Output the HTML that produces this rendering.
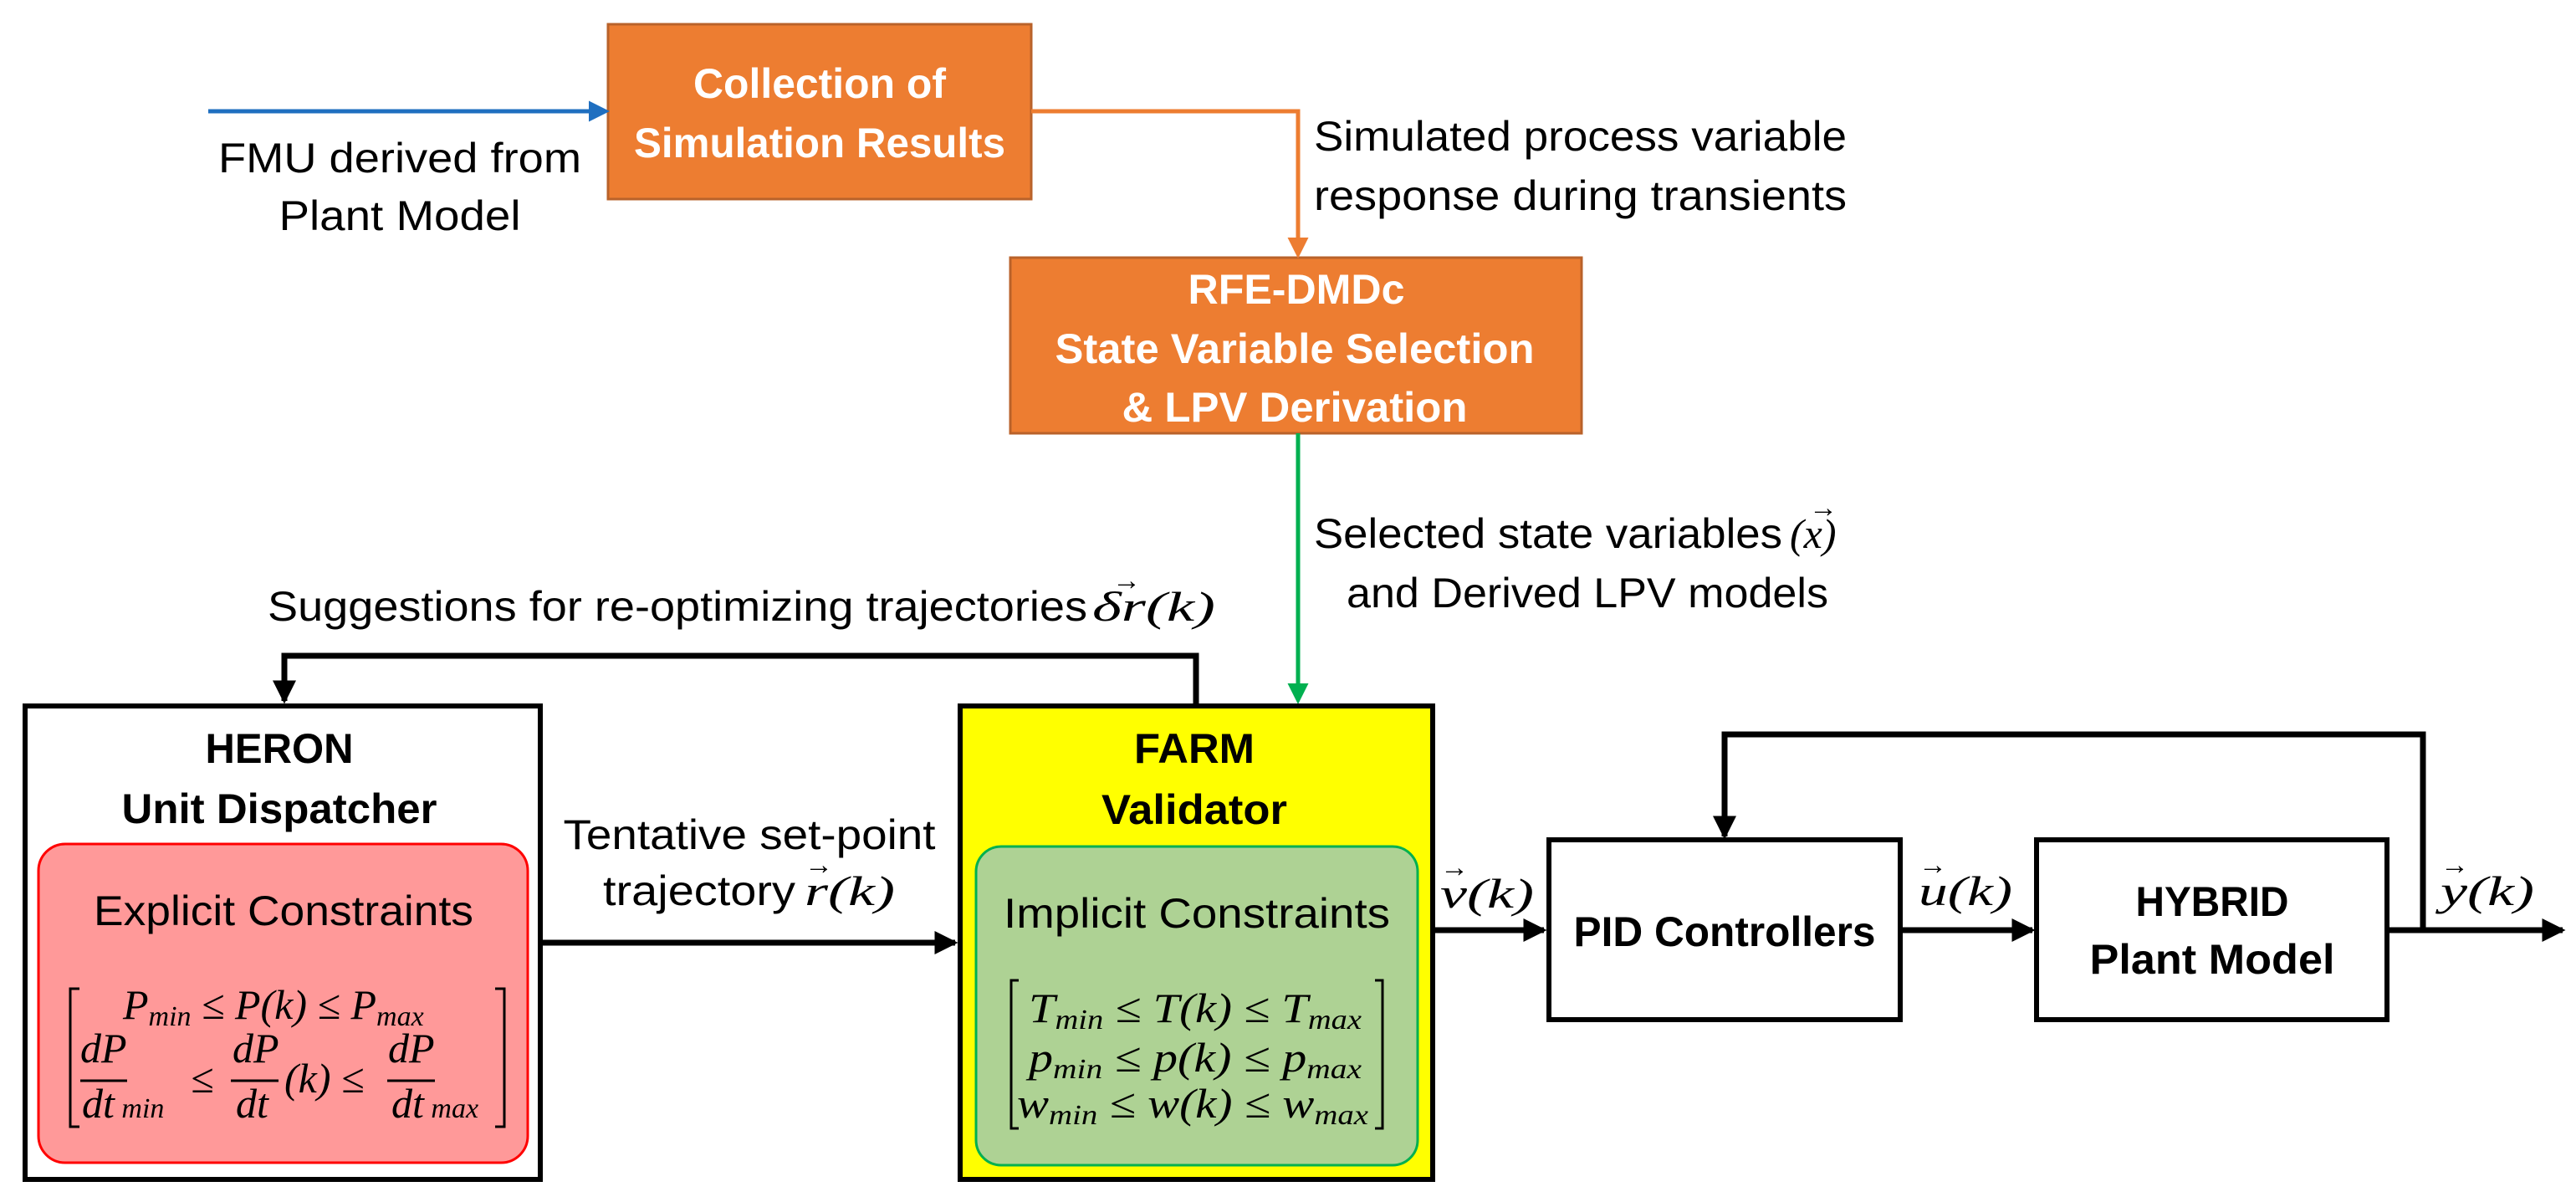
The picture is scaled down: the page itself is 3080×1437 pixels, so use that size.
<!DOCTYPE html>
<html><head><meta charset="utf-8"><style>
html,body{margin:0;padding:0;background:#fff;}
svg{display:block;}
.t{font-family:"Liberation Sans",sans-serif;font-size:50px;fill:#000;}
.b{font-weight:bold;}
.w{fill:#fff;}
.m{font-family:"Liberation Serif",serif;font-style:italic;font-size:50px;fill:#000;}
.s{font-size:34px;}
</style></head><body>
<svg width="3080" height="1437" viewBox="0 0 3080 1437" xmlns="http://www.w3.org/2000/svg">
<defs>
<marker id="ak" markerWidth="4" markerHeight="4" refX="3.5" refY="2" orient="auto" markerUnits="strokeWidth"><path d="M0,0 L4,2 L0,4 z" fill="#000"/></marker>
<marker id="ab" markerWidth="5" markerHeight="5" refX="4" refY="2.5" orient="auto" markerUnits="strokeWidth"><path d="M0,0 L5,2.5 L0,5 z" fill="#1f6fc0"/></marker>
<marker id="ao" markerWidth="5" markerHeight="5" refX="4" refY="2.5" orient="auto" markerUnits="strokeWidth"><path d="M0,0 L5,2.5 L0,5 z" fill="#ed7d31"/></marker>
<marker id="ag" markerWidth="5" markerHeight="5" refX="4" refY="2.5" orient="auto" markerUnits="strokeWidth"><path d="M0,0 L5,2.5 L0,5 z" fill="#00b050"/></marker>
</defs>

<rect x="727" y="29" width="506" height="209" fill="#ed7d31" stroke="#b9622a" stroke-width="3"/>
<text class="t b w" x="980" y="117" text-anchor="middle" textLength="302" lengthAdjust="spacingAndGlyphs">Collection of</text>
<text class="t b w" x="980" y="188" text-anchor="middle" textLength="444" lengthAdjust="spacingAndGlyphs">Simulation Results</text>

<rect x="1208" y="308" width="683" height="210" fill="#ed7d31" stroke="#b9622a" stroke-width="3"/>
<text class="t b w" x="1550" y="363" text-anchor="middle" textLength="259" lengthAdjust="spacingAndGlyphs">RFE-DMDc</text>
<text class="t b w" x="1548" y="434" text-anchor="middle" textLength="573" lengthAdjust="spacingAndGlyphs">State Variable Selection</text>
<text class="t b w" x="1548" y="504" text-anchor="middle" textLength="413" lengthAdjust="spacingAndGlyphs">&amp; LPV Derivation</text>

<line x1="249" y1="133" x2="724" y2="133" stroke="#1f6fc0" stroke-width="5" marker-end="url(#ab)"/>
<text class="t" x="478" y="206" text-anchor="middle" textLength="434" lengthAdjust="spacingAndGlyphs">FMU derived from</text>
<text class="t" x="478" y="275" text-anchor="middle" textLength="289" lengthAdjust="spacingAndGlyphs">Plant Model</text>

<polyline points="1233,133 1552,133 1552,304" fill="none" stroke="#ed7d31" stroke-width="5" marker-end="url(#ao)"/>
<text class="t" x="1571" y="180" textLength="637" lengthAdjust="spacingAndGlyphs">Simulated process variable</text>
<text class="t" x="1571" y="251" textLength="637" lengthAdjust="spacingAndGlyphs">response during transients</text>

<line x1="1552" y1="518" x2="1552" y2="837" stroke="#00b050" stroke-width="5" marker-end="url(#ag)"/>
<text class="t" x="1571" y="655" textLength="560" lengthAdjust="spacingAndGlyphs">Selected state variables</text>
<text class="m" x="2140" y="655">(<tspan>x</tspan>)</text>
<text class="t s" x="2163" y="618">→</text>
<text class="t" x="1610" y="726" textLength="576" lengthAdjust="spacingAndGlyphs">and Derived LPV models</text>

<polyline points="1430,841 1430,784 340,784 340,838" fill="none" stroke="#000" stroke-width="7" marker-end="url(#ak)"/>
<text class="t" x="320" y="742" textLength="980" lengthAdjust="spacingAndGlyphs">Suggestions for re-optimizing trajectories</text>
<text class="m" x="1306" y="742" textLength="147" lengthAdjust="spacingAndGlyphs">δr(k)</text>
<text class="t s" x="1330" y="705">→</text>

<rect x="30" y="844" width="616" height="566" fill="#fff" stroke="#000" stroke-width="6"/>
<text class="t b" x="334" y="912" text-anchor="middle" textLength="177" lengthAdjust="spacingAndGlyphs">HERON</text>
<text class="t b" x="334" y="984" text-anchor="middle" textLength="377" lengthAdjust="spacingAndGlyphs">Unit Dispatcher</text>
<rect x="46" y="1009" width="585" height="381" rx="32" fill="#ff9999" stroke="#ff0000" stroke-width="3"/>
<text class="t" x="339" y="1106" text-anchor="middle" textLength="454" lengthAdjust="spacingAndGlyphs">Explicit Constraints</text>
<path d="M95,1182 H84 V1347 H95" fill="none" stroke="#000" stroke-width="3"/>
<path d="M592,1182 H603 V1347 H592" fill="none" stroke="#000" stroke-width="3"/>
<text class="m" x="147" y="1218">P<tspan class="s" dy="8">min</tspan><tspan dy="-8"> ≤ P(k) ≤ P</tspan><tspan class="s" dy="8">max</tspan></text>
<text class="m" x="96" y="1270">dP</text>
<line x1="96" y1="1292" x2="152" y2="1292" stroke="#000" stroke-width="3"/>
<text class="m" x="98" y="1336">dt<tspan class="s"> min</tspan></text>
<text class="m" x="228" y="1306">≤</text>
<text class="m" x="278" y="1270">dP</text>
<line x1="276" y1="1292" x2="333" y2="1292" stroke="#000" stroke-width="3"/>
<text class="m" x="282" y="1336">dt</text>
<text class="m" x="340" y="1306">(k) ≤</text>
<text class="m" x="464" y="1270">dP</text>
<line x1="463" y1="1292" x2="520" y2="1292" stroke="#000" stroke-width="3"/>
<text class="m" x="468" y="1336">dt<tspan class="s"> max</tspan></text>

<line x1="649" y1="1127" x2="1142" y2="1127" stroke="#000" stroke-width="7" marker-end="url(#ak)"/>
<text class="t" x="896" y="1015" text-anchor="middle" textLength="445" lengthAdjust="spacingAndGlyphs">Tentative set-point</text>
<text class="t" x="721" y="1082" textLength="230" lengthAdjust="spacingAndGlyphs">trajectory</text>
<text class="m" x="962" y="1082" textLength="108" lengthAdjust="spacingAndGlyphs">r(k)</text>
<text class="t s" x="962" y="1045">→</text>

<rect x="1148" y="844" width="565" height="566" fill="#ffff00" stroke="#000" stroke-width="6"/>
<text class="t b" x="1428" y="912" text-anchor="middle" textLength="144" lengthAdjust="spacingAndGlyphs">FARM</text>
<text class="t b" x="1428" y="985" text-anchor="middle" textLength="222" lengthAdjust="spacingAndGlyphs">Validator</text>
<rect x="1167" y="1012" width="528" height="381" rx="30" fill="#aed294" stroke="#00b050" stroke-width="3"/>
<text class="t" x="1431" y="1109" text-anchor="middle" textLength="462" lengthAdjust="spacingAndGlyphs">Implicit Constraints</text>
<path d="M1218,1172 H1209 V1349 H1218" fill="none" stroke="#000" stroke-width="3"/>
<path d="M1644,1172 H1653 V1349 H1644" fill="none" stroke="#000" stroke-width="3"/>
<text class="m" x="1230" y="1222" textLength="398" lengthAdjust="spacingAndGlyphs">T<tspan class="s" dy="8">min</tspan><tspan dy="-8"> ≤ T(k) ≤ T</tspan><tspan class="s" dy="8">max</tspan></text>
<text class="m" x="1230" y="1281" textLength="398" lengthAdjust="spacingAndGlyphs">p<tspan class="s" dy="8">min</tspan><tspan dy="-8"> ≤ p(k) ≤ p</tspan><tspan class="s" dy="8">max</tspan></text>
<text class="m" x="1216" y="1336" textLength="420" lengthAdjust="spacingAndGlyphs">w<tspan class="s" dy="8">min</tspan><tspan dy="-8"> ≤ w(k) ≤ w</tspan><tspan class="s" dy="8">max</tspan></text>

<line x1="1716" y1="1112" x2="1846" y2="1112" stroke="#000" stroke-width="7" marker-end="url(#ak)"/>
<text class="m" x="1722" y="1085" textLength="112" lengthAdjust="spacingAndGlyphs">v(k)</text>
<text class="t s" x="1722" y="1048">→</text>

<rect x="1852" y="1004" width="420" height="215" fill="#fff" stroke="#000" stroke-width="6"/>
<text class="t b" x="2062" y="1131" text-anchor="middle" textLength="361" lengthAdjust="spacingAndGlyphs">PID Controllers</text>

<line x1="2275" y1="1112" x2="2430" y2="1112" stroke="#000" stroke-width="7" marker-end="url(#ak)"/>
<text class="m" x="2294" y="1082" textLength="112" lengthAdjust="spacingAndGlyphs">u(k)</text>
<text class="t s" x="2294" y="1045">→</text>

<rect x="2435" y="1004" width="419" height="215" fill="#fff" stroke="#000" stroke-width="6"/>
<text class="t b" x="2645" y="1095" text-anchor="middle" textLength="183" lengthAdjust="spacingAndGlyphs">HYBRID</text>
<text class="t b" x="2645" y="1164" text-anchor="middle" textLength="293" lengthAdjust="spacingAndGlyphs">Plant Model</text>

<line x1="2857" y1="1112" x2="3064" y2="1112" stroke="#000" stroke-width="7" marker-end="url(#ak)"/>
<text class="m" x="2918" y="1082" textLength="112" lengthAdjust="spacingAndGlyphs">y(k)</text>
<text class="t s" x="2918" y="1045">→</text>
<polyline points="2897,1112 2897,878 2062,878 2062,1000" fill="none" stroke="#000" stroke-width="7" marker-end="url(#ak)"/>
</svg>
</body></html>
